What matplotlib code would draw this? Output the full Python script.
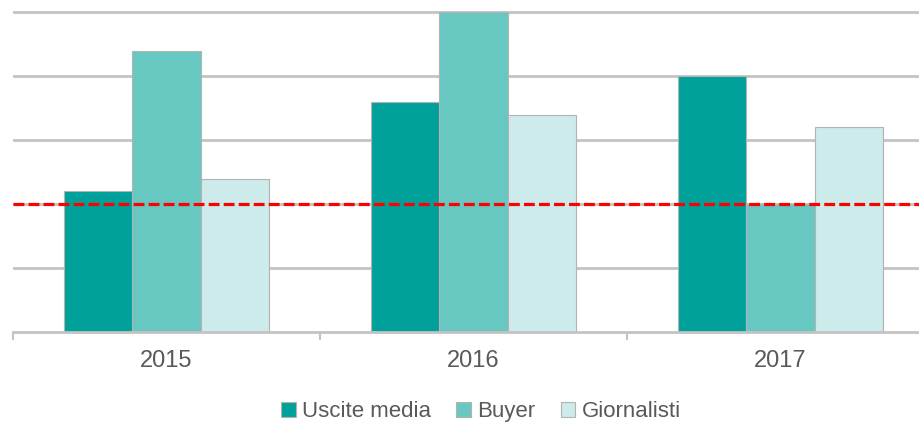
import numpy as np
import matplotlib
matplotlib.use("Agg")
import matplotlib.pyplot as plt

plt.rcParams['font.family'] = ['Liberation Sans', 'DejaVu Sans']

# data (gridline units)
years = ['2015', '2016', '2017']
uscite_media = [2.2, 3.6, 4.0]
buyer = [4.4, 5.0, 2.0]
giornalisti = [2.4, 3.4, 3.2]
soglia = 2.0

series = [('Uscite media', uscite_media, '#00a19a'),
          ('Buyer', buyer, '#67c7c1'),
          ('Giornalisti', giornalisti, '#ccebea')]

fig = plt.figure(figsize=(9.2, 4.23), dpi=100)
ax = fig.add_axes([13/920, 91/423, 921/920, 321/423])

x = np.arange(len(years))
w = 0.2215
for i, (name, vals, col) in enumerate(series):
    ax.bar(x + (i - 1) * w, vals, w, color=col, edgecolor='#b3b3b3',
           linewidth=0.8, label=name, zorder=2)

ax.axhline(soglia, color='#ff0000', lw=2.3, ls=(0, (3.4, 1.3)), zorder=4)

ax.set_xlim(-0.5, 2.5)
ax.set_ylim(0, 5.02)
ax.set_yticks([1, 2, 3, 4, 5])
ax.yaxis.grid(True, color='#c3c3c3', lw=2, zorder=0)
ax.set_axisbelow(True)
ax.tick_params(axis='y', length=0, labelleft=False)

ax.set_xticks(x)
ax.set_xticklabels(years, fontsize=17, color='#595959')
ax.set_xticks([-0.5, 0.5, 1.5, 2.5], minor=True)
ax.tick_params(axis='x', which='major', length=0, pad=13)
ax.tick_params(axis='x', which='minor', length=5.5, width=1.5, color='#c3c3c3')

for s in ['left', 'right', 'top']:
    ax.spines[s].set_visible(False)
ax.spines['bottom'].set_color('#c3c3c3')
ax.spines['bottom'].set_linewidth(2)

fig.legend(loc='center', bbox_to_anchor=(0.523, 0.027), ncol=3, frameon=False,
           fontsize=16, labelcolor='#595959', handlelength=0.65,
           handleheight=0.65, handletextpad=0.3, columnspacing=1.13)

fig.savefig('out.png', dpi=100)
